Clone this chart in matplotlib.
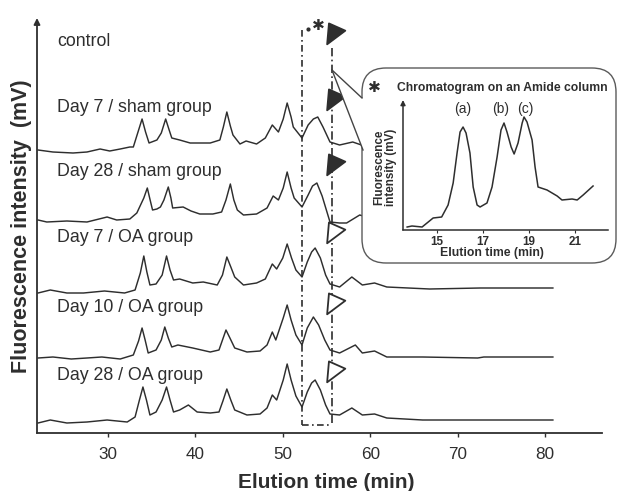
import matplotlib
matplotlib.use("Agg")
import matplotlib.pyplot as plt
from matplotlib.patches import FancyBboxPatch
from matplotlib.path import Path
import numpy as np

plt.rcParams['font.family'] = ['Liberation Sans', 'DejaVu Sans']

# ---------------- data ----------------
group_labels = ["control", "Day 7 / sham group", "Day 28 / sham group",
                "Day 7 / OA group", "Day 10 / OA group", "Day 28 / OA group"]
label_y = [391, 326, 261, 195, 125, 58]          # stacked signal level of each label
marker_y = [401, 335, 270, 202, 131, 63]         # arrowhead levels
marker_filled = [True, True, True, False, False, False]
marker_t = 55.8                                  # elution time of the arrowheads (min)
window_t = [52.2, 55.6]                          # boxed elution window (min)

# stacked chromatograms (time in min, signal in arbitrary stacked units)
t_d7sham = [22.0, 23.7, 26.0, 27.6, 29.1, 30.2, 31.4, 32.5, 32.9, 33.4, 33.9, 34.3, 34.7,
            35.6, 36.1, 36.6, 37.0, 37.3, 38.2, 39.4, 40.3, 41.7, 42.8, 43.2, 43.6, 44.0,
            44.3, 45.1, 45.8, 47.0, 48.0, 48.8, 49.5, 50.05, 50.5, 50.95, 51.2, 52.2, 52.9,
            53.5, 54.0, 54.6, 55.4, 56.5, 58.0, 59.0, 60.5, 62.0, 66.0, 72.0, 80.9]
s_d7sham = [283, 281, 280, 281, 284, 282, 284, 286, 286, 300, 314, 301, 290, 293, 300,
            314, 303, 295, 293, 290, 290, 290, 293, 306, 321, 307, 298, 289, 292, 289,
            295, 308, 301, 314, 330, 316, 306, 295, 308, 314, 316, 306, 291, 288, 291,
            288, 289, 286, 286, 286, 286]

t_d28sham = [22.0, 23.0, 25.3, 27.6, 29.9, 31.0, 32.5, 33.3, 34.1, 34.5, 34.85, 35.1, 35.6,
             36.0, 36.4, 36.9, 37.2, 37.4, 38.6, 39.5, 40.5, 42.0, 43.0, 43.5, 44.0, 44.4,
             44.8, 45.5, 47.0, 48.2, 48.9, 49.5, 50.05, 50.5, 50.95, 51.3, 52.2, 52.9, 53.4,
             53.9, 54.5, 55.4, 56.5, 57.3, 58.8, 60.0, 62.0, 66.0, 72.0, 80.9]
s_d28sham = [213, 211, 212, 211, 216, 213, 214, 220, 235, 245, 232, 223, 224, 226, 233,
             246, 235, 225, 226, 222, 219, 219, 221, 233, 249, 233, 223, 218, 219, 225,
             237, 233, 245, 261, 245, 235, 226, 238, 247, 250, 237, 211, 210, 210, 218,
             215, 215, 215, 215, 215]

t_d7oa = [22.0, 23.4, 25.3, 27.2, 29.6, 31.9, 33.1, 33.7, 34.1, 34.45, 34.8, 35.5, 36.2,
          36.7, 37.1, 37.5, 38.2, 39.7, 40.9, 42.5, 43.1, 43.6, 44.1, 44.5, 45.5, 47.0,
          48.0, 48.8, 49.3, 50.0, 50.5, 51.0, 51.5, 52.2, 52.8, 53.3, 53.7, 54.3, 54.9,
          55.4, 56.5, 57.9, 59.1, 60.5, 61.9, 66.8, 72.6, 80.9]
s_d7oa = [140, 143, 140, 140, 142, 140, 143, 160, 177, 161, 148, 149, 158, 177, 163,
          153, 154, 150, 151, 148, 158, 176, 165, 156, 148, 150, 154, 169, 164, 175,
          189, 175, 163, 156, 171, 181, 185, 175, 158, 149, 146, 156, 148, 150, 146,
          144, 145, 145]

t_d10oa = [22.0, 23.7, 25.8, 27.6, 29.3, 31.4, 32.9, 33.5, 33.9, 34.25, 34.6, 35.5, 36.1,
           36.5, 36.9, 37.3, 38.0, 39.7, 41.7, 42.7, 43.1, 43.5, 43.95, 44.5, 45.9, 47.4,
           48.2, 48.8, 49.2, 50.05, 50.5, 50.95, 51.5, 52.2, 52.8, 53.5, 54.1, 54.8, 55.4,
           56.5, 58.3, 59.1, 60.5, 61.9, 66.0, 72.3, 73.0, 80.9]
s_d10oa = [75, 76, 74, 75, 76, 74, 78, 92, 105, 93, 80, 83, 93, 106, 95, 86, 88, 85, 81,
           83, 93, 103, 95, 85, 81, 82, 88, 101, 93, 115, 128, 113, 98, 88, 105, 116, 108,
           93, 83, 80, 88, 80, 82, 76, 76, 75, 76, 76]

t_d28oa = [22.0, 23.4, 25.3, 27.6, 29.9, 32.2, 33.1, 33.6, 34.0, 34.4, 34.8, 35.5, 36.2,
           36.7, 37.1, 37.5, 38.2, 39.2, 40.2, 41.7, 42.7, 43.15, 43.6, 44.05, 44.5, 45.9,
           47.4, 48.2, 48.8, 49.3, 50.05, 50.5, 50.95, 51.5, 52.2, 52.8, 53.3, 53.7, 54.3,
           54.9, 55.4, 56.5, 57.9, 59.1, 60.5, 61.9, 66.0, 72.0, 80.9]
s_d28oa = [10, 13, 10, 11, 13, 11, 16, 33, 46, 33, 18, 21, 33, 46, 33, 21, 23, 28, 21,
           20, 21, 32, 44, 33, 23, 18, 19, 25, 38, 33, 53, 69, 53, 37, 26, 41, 50, 53,
           43, 28, 19, 18, 25, 18, 19, 15, 13, 13, 13]

x_ticks = [30, 40, 50, 60, 70, 80]

# inset: amide column chromatogram
t_amide = [13.70, 13.91, 14.35, 14.83, 15.2, 15.48, 15.7, 15.87, 16.0, 16.13, 16.26, 16.43,
           16.57, 16.74, 16.87, 17.17, 17.39, 17.61, 17.78, 17.91, 18.04, 18.22, 18.35,
           18.52, 18.7, 18.78, 18.91, 19.13, 19.26, 19.39, 19.78, 20.22, 20.43, 20.87,
           21.09, 21.35, 21.78]
s_amide = [4, 5, 4, 13, 14, 26, 48, 78, 99, 104, 98, 78, 44, 26, 24, 28, 44, 74, 101, 108,
           99, 84, 77, 88, 108, 114, 109, 91, 64, 44, 41, 35, 31, 32, 31, 36, 45]
peak_names = ["(a)", "(b)", "(c)"]
peak_t = [16.1, 17.78, 18.83]
inset_ticks = [15, 17, 19, 21]

# ---------------- figure ----------------
W, H = 617, 491
INK = "#2e2e2e"
fig = plt.figure(figsize=(W / 100, H / 100), dpi=100)
fig.patch.set_facecolor("white")


def frame(l, t, r, b):
    return [l / W, 1 - b / H, (r - l) / W, (b - t) / H]


ax = fig.add_axes(frame(37, 18, 602, 433), zorder=1)
ax.set_xlim(21.88, 86.52)
ax.set_ylim(0, 415)
ax.patch.set_alpha(0)
for s in ["top", "right", "left"]:
    ax.spines[s].set_visible(False)
ax.spines["bottom"].set_color(INK)
ax.spines["bottom"].set_linewidth(1.3)
ax.set_yticks([])
ax.set_xticks(x_ticks)
ax.tick_params(axis="x", direction="out", length=3, width=1, color=INK,
               labelsize=12.3, labelcolor=INK, pad=7)
ax.annotate("", xy=(0, 1), xytext=(0, 0), xycoords="axes fraction",
            arrowprops=dict(arrowstyle="-|>", lw=1.3, color=INK, mutation_scale=9,
                            shrinkA=0, shrinkB=0))

traces = [(t_d7sham, s_d7sham), (t_d28sham, s_d28sham), (t_d7oa, s_d7oa),
          (t_d10oa, s_d10oa), (t_d28oa, s_d28oa)]
for t, s in traces:
    ax.plot(t, s, color=INK, lw=1.05, solid_joinstyle="round")

for lab, y in zip(group_labels, label_y):
    ax.text(24.16, y, lab, fontsize=12.8, color=INK, ha="left", va="center")

# arrowhead marker
tri = Path([(-5, 10), (13, 2), (-7, -13), (-5, 10)],
           [Path.MOVETO, Path.LINETO, Path.LINETO, Path.CLOSEPOLY])
for y, filled in zip(marker_y, marker_filled):
    ax.plot([marker_t], [y], marker=tri, ms=17, mew=1.3, mec=INK,
            mfc=INK if filled else "white", ls="none", zorder=4)

# boxed elution window
ax.plot([window_t[0]] * 2, [403, 8], color=INK, lw=1.2, ls=(0, (4, 2, 1, 2)))
ax.plot([window_t[1]] * 2, [385, 8], color=INK, lw=1.2, ls=(0, (5, 2, 1, 2)))
ax.plot(window_t, [8, 8], color=INK, lw=1.2, ls=(0, (4, 2, 1, 2)))

# axis titles
fig.text(326 / W, 1 - 482 / H, "Elution time (min)", fontsize=15, fontweight="bold",
         color=INK, ha="center", va="center")
fig.text(22 / W, 1 - 226 / H, "Fluorescence intensity  (mV)", fontsize=15.5,
         fontweight="bold", color=INK, ha="center", va="center", rotation=90)

# ---------------- overlay: callout bubble ----------------
ov = fig.add_axes([0, 0, 1, 1], zorder=2)
ov.set_xlim(0, W)
ov.set_ylim(H, 0)
ov.axis("off")
ov.patch.set_alpha(0)
bubble = FancyBboxPatch((362, 68), 254, 195, boxstyle="round,pad=0,rounding_size=24",
                        facecolor="white", edgecolor="#5a5a5a", lw=1.0)
ov.add_patch(bubble)
ov.fill([332, 362, 366, 366, 363], [70, 98, 98, 150, 150], color="white", lw=0)
ov.plot([332, 362], [70, 98], color="#444444", lw=1.0)
ov.plot([332, 363], [70, 150], color="#444444", lw=1.0)
ov.plot([308], [29], marker="o", ms=2, color=INK)
ov.text(318, 25, "\u2731", fontsize=11, color=INK, ha="center", va="center",
        family="DejaVu Sans")
ov.text(374, 87, "\u2731", fontsize=11, color=INK, ha="center", va="center",
        family="DejaVu Sans")
ov.text(397, 88, "Chromatogram on an Amide column", fontsize=8.7, fontweight="bold",
        color=INK, ha="left", va="center")
ov.text(492, 253, "Elution time (min)", fontsize=8.8, fontweight="bold", color=INK,
        ha="center", va="center")
ov.text(385, 167, "Fluorescence\nintensity (mV)", fontsize=8.4, fontweight="bold",
        color=INK, ha="center", va="center", rotation=90, linespacing=1.0)

# ---------------- inset chromatogram ----------------
ia = fig.add_axes(frame(403, 100, 608, 230), zorder=3)
ia.patch.set_alpha(0)
ia.set_xlim(13.52, 22.43)
ia.set_ylim(1, 131)
for s in ["top", "right", "left"]:
    ia.spines[s].set_visible(False)
ia.spines["bottom"].set_color(INK)
ia.spines["bottom"].set_linewidth(1.1)
ia.set_yticks([])
ia.set_xticks(inset_ticks)
ia.set_xticklabels([str(v) for v in inset_ticks], fontweight="bold")
ia.tick_params(axis="x", direction="out", length=2, width=0.8, color=INK,
               labelsize=8.4, labelcolor=INK, pad=2)
ia.annotate("", xy=(0, 1), xytext=(0, 0), xycoords="axes fraction",
            arrowprops=dict(arrowstyle="-|>", lw=1.1, color=INK, mutation_scale=7,
                            shrinkA=0, shrinkB=0))
ia.plot(t_amide, s_amide, color=INK, lw=1.1, solid_joinstyle="round")
for name, t in zip(peak_names, peak_t):
    ia.text(t, 122, name, fontsize=10, color=INK, ha="center", va="center")

fig.savefig("out.png", dpi=100, facecolor="white")
